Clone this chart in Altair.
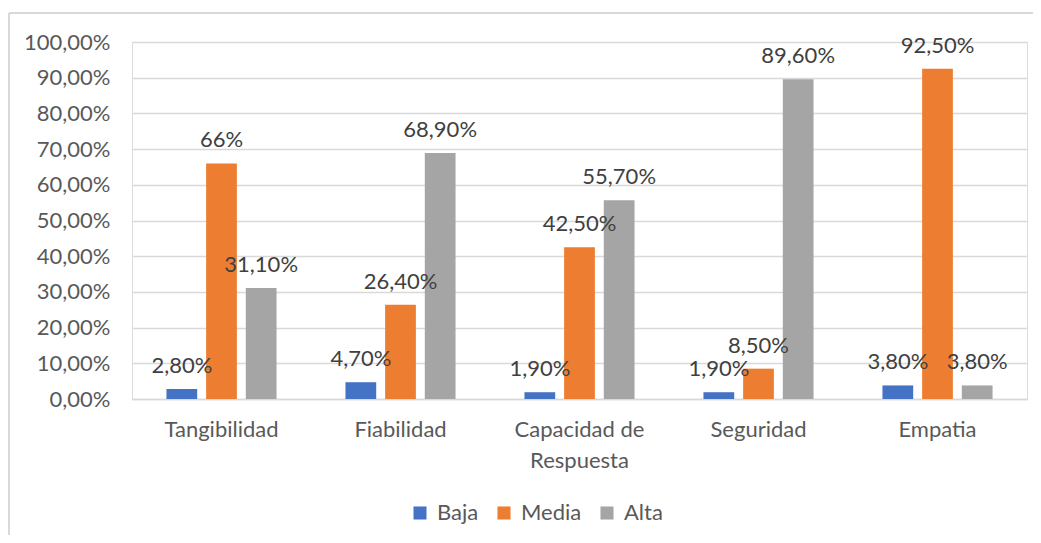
import altair as alt
import pandas as pd

categories = ["Tangibilidad", "Fiabilidad", "Capacidad de Respuesta", "Seguridad", "Empatia"]
series = ["Baja", "Media", "Alta"]
colors = ["#4472C4", "#ED7D31", "#A5A5A5"]

baja = [0.028, 0.047, 0.019, 0.019, 0.038]
media = [0.66, 0.264, 0.425, 0.085, 0.925]
alta = [0.311, 0.689, 0.557, 0.896, 0.038]

baja_labels = ["2,80%", "4,70%", "1,90%", "1,90%", "3,80%"]
media_labels = ["66%", "26,40%", "42,50%", "8,50%", "92,50%"]
alta_labels = ["31,10%", "68,90%", "55,70%", "89,60%", "3,80%"]

rows = []
for s, vals, labs in [("Baja", baja, baja_labels), ("Media", media, media_labels), ("Alta", alta, alta_labels)]:
    for c, v, l in zip(categories, vals, labs):
        rows.append({"categoria": c, "nivel": s, "valor": v, "etiqueta": l})
df = pd.DataFrame(rows)

FONT = "Lato"
FS = 22

x_enc = alt.X(
    "categoria:N",
    sort=categories,
    title=None,
    scale=alt.Scale(paddingInner=0.385, paddingOuter=0.1925),
    axis=alt.Axis(
        labelAngle=0,
        labelFont=FONT,
        labelFontSize=FS,
        labelColor="#595959",
        labelPadding=20,
        labelLineHeight=31,
        labelExpr="datum.label == 'Capacidad de Respuesta' ? ['Capacidad de', 'Respuesta'] : datum.label",
        ticks=False,
        domainColor="#d9d9d9",
        domainWidth=1.5,
        grid=False,
    ),
)
xoff = alt.XOffset("nivel:N", sort=series, scale=alt.Scale(paddingInner=0.225, paddingOuter=0))
y_enc = alt.Y(
    "valor:Q",
    title=None,
    scale=alt.Scale(domain=[0, 1], nice=False),
    axis=alt.Axis(
        values=[0, 0.1, 0.2, 0.3, 0.4, 0.5, 0.6, 0.7, 0.8, 0.9, 1.0],
        labelExpr="replace(format(datum.value, '.2%'), '.', ',')",
        labelFont=FONT,
        labelFontSize=FS,
        labelColor="#595959",
        labelPadding=22,
        labelOverlap=False,
        ticks=False,
        domain=False,
        gridColor="#d9d9d9",
        gridWidth=1.5,
    ),
)
color_enc = alt.Color(
    "nivel:N",
    sort=series,
    scale=alt.Scale(domain=series, range=colors),
    legend=alt.Legend(
        title=None,
        orient="none",
        direction="horizontal",
        legendX=277,
        legendY=460,
        symbolType="square",
        symbolSize=170,
        symbolStrokeWidth=0,
        labelFont=FONT,
        labelFontSize=FS,
        labelColor="#595959",
        labelOffset=6,
        columnPadding=14,
        padding=0,
    ),
)

bars = alt.Chart(df).mark_bar().encode(x=x_enc, xOffset=xoff, y=y_enc, color=color_enc)
labels = alt.Chart(df).mark_text(
    font=FONT, fontSize=FS, color="#404040", baseline="middle", dy=-23
).encode(x=x_enc, xOffset=xoff, y=y_enc, text="etiqueta:N")

border_df = pd.DataFrame({"k": [0]})
left_line = alt.Chart(border_df).mark_rule(color="#d9d9d9", strokeWidth=2).encode(
    x=alt.value(-123), y=alt.value(-29), y2=alt.value(600)
)
top_line = alt.Chart(border_df).mark_rule(color="#d9d9d9", strokeWidth=2).encode(
    x=alt.value(-123), x2=alt.value(910), y=alt.value(-29)
)

chart = alt.layer(bars, labels, left_line, top_line).properties(
    width=895,
    height=357,
    padding={"left": 124, "top": 34, "right": 6, "bottom": 136},
    autosize=alt.AutoSizeParams(type="none"),
).configure_view(stroke=None).configure(background="white")

chart.save("out.html", embed_options={"renderer": "svg", "actions": False})
